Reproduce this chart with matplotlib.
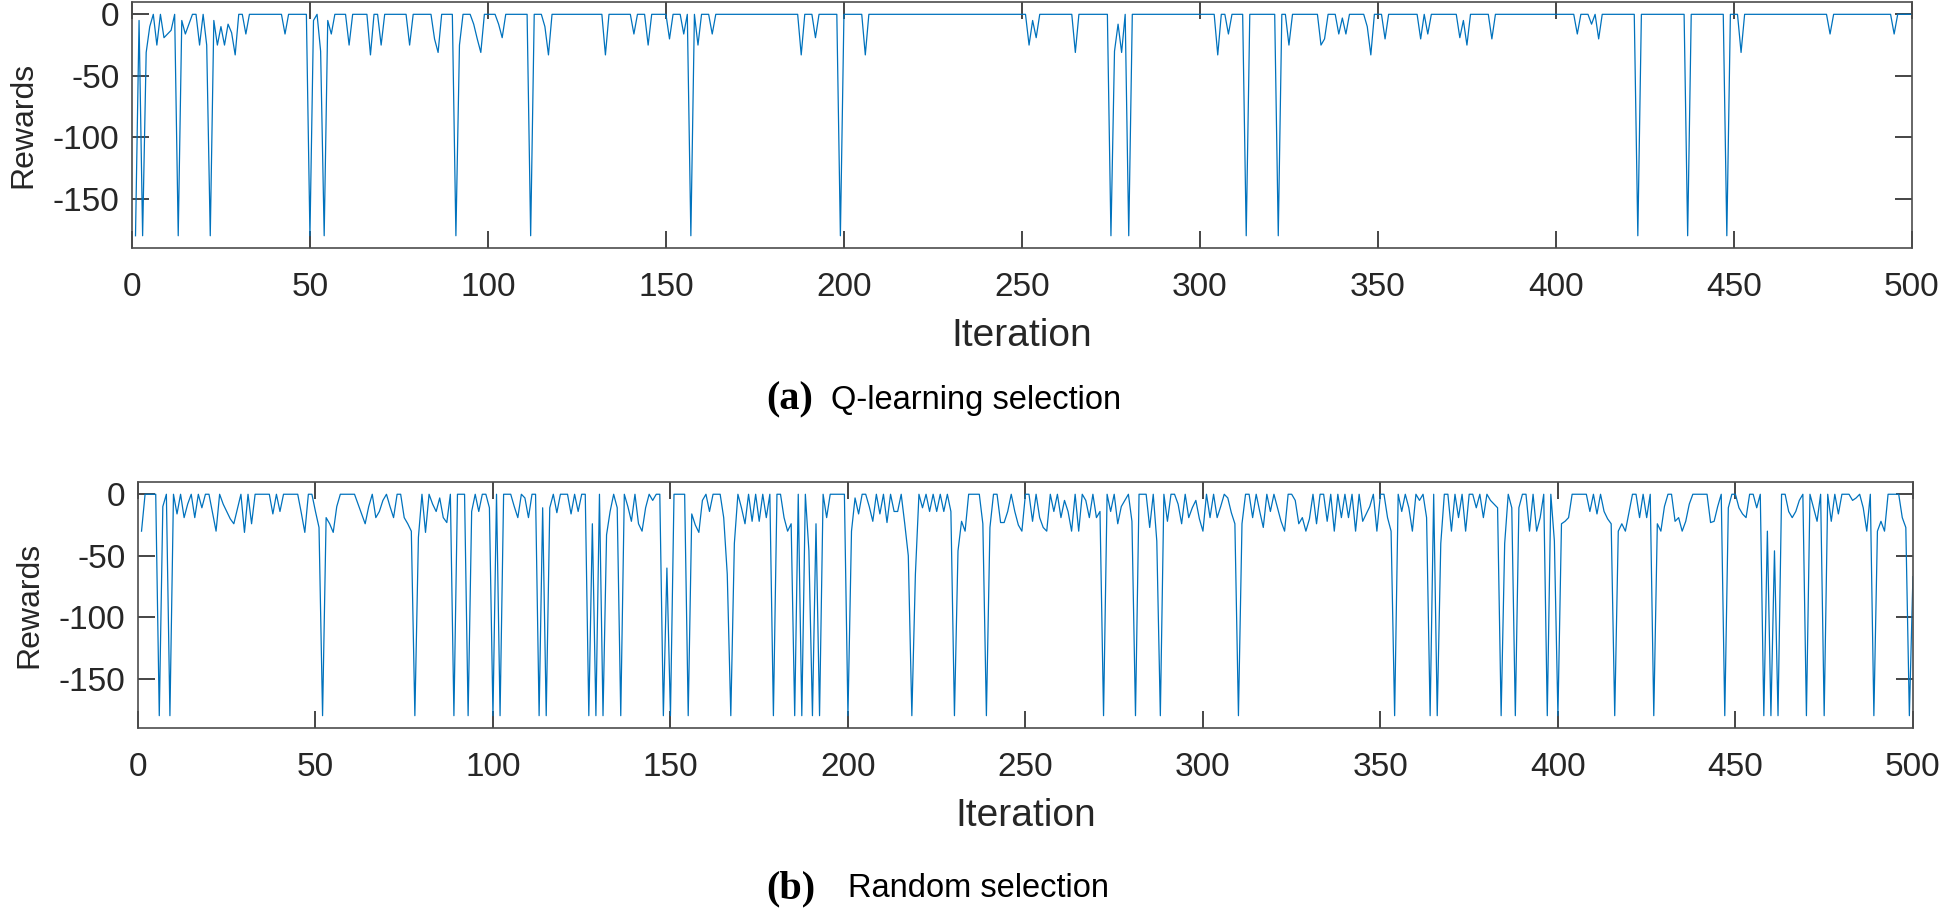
import numpy as np
import matplotlib
matplotlib.use('Agg')
import matplotlib.pyplot as plt

# Q-learning selection: reward is 0 except at these iterations
q_iters = [1, 2, 3, 4, 5, 7, 9, 10, 11, 13, 14, 15, 16, 19, 21, 22, 23, 24, 25, 26,
           27, 28, 29, 32, 43, 50, 51, 53, 54, 55, 56, 61, 67, 70, 78, 85, 86, 91, 92, 96,
           97, 98, 103, 104, 112, 116, 117, 133, 141, 145, 151, 155, 157, 159, 163, 188, 192, 199, 206, 252,
           253, 254, 265, 275, 276, 277, 278, 280, 305, 308, 313, 322, 325, 334, 335, 339, 340, 341, 347, 348,
           352, 362, 364, 373, 374, 375, 382, 406, 410, 412, 423, 437, 448, 452, 477, 495]
q_values = [-180, -5, -180, -31, -10, -25, -19, -16, -13, -180, -5, -16, -8, -25, -25, -180, -5, -25, -10, -25,
            -8, -15, -33, -16, -16, -180, -5, -30, -180, -5, -16, -25, -33, -25, -25, -20, -31, -180, -25, -8,
            -20, -31, -8, -19, -180, -10, -33, -33, -16, -25, -20, -16, -180, -25, -16, -33, -19, -180, -33, -25,
            -5, -19, -31, -180, -30, -8, -31, -180, -33, -16, -180, -180, -25, -25, -20, -16, -3, -16, -10, -33,
            -20, -20, -16, -19, -5, -25, -20, -16, -8, -20, -180, -180, -180, -31, -16, -16]

# Random selection: reward at every iteration 1..500
random_rewards = [
    -30, 0, 0, 0, 0, -180, -10, 0, -180, 0,
    -16, 0, -19, -8, 0, -19, 0, -11, 0, 0,
    -15, -30, 0, -8, -14, -20, -24, -12, 0, -31,
    0, -24, 0, 0, 0, 0, 0, -16, 0, -14,
    0, 0, 0, 0, 0, -15, -31, 0, 0, -14,
    -27, -180, -19, -24, -31, -10, 0, 0, 0, 0,
    0, -8, -16, -24, -10, 0, -19, -14, -5, 0,
    -10, -19, 0, 0, -19, -24, -30, -180, -35, 0,
    -31, 0, -8, -14, -3, -19, -23, 0, -180, 0,
    0, 0, -180, -14, 0, -14, 0, 0, -11, -180,
    0, -180, 0, 0, 0, -10, -19, 0, -3, -19,
    0, 0, -180, -11, -180, -11, 0, -15, 0, 0,
    0, -16, 0, -14, 0, 0, -180, -24, -180, 0,
    -180, -33, -14, 0, -11, -180, 0, -10, -22, 0,
    -24, -30, -11, 0, -5, 0, 0, -180, -60, -180,
    0, 0, 0, 0, -180, -16, -25, -31, -5, 0,
    -14, 0, 0, 0, -19, -65, -180, -40, 0, -11,
    -24, 0, -22, 0, -22, 0, -19, 0, -180, 0,
    0, -19, -30, -24, -180, 0, -180, 0, -46, -180,
    -24, -180, 0, -19, 0, 0, 0, 0, 0, -180,
    -30, -3, -16, 0, 0, -10, -22, 0, -16, 0,
    -23, 0, -14, -14, 0, -24, -50, -180, -65, 0,
    -11, 0, -14, 0, -14, 0, -14, 0, -14, -180,
    -46, -22, -30, 0, 0, 0, 0, -24, -180, -27,
    0, 0, -23, -23, -14, 0, -14, -25, -30, 0,
    0, -22, 0, -19, -27, -30, 0, -14, 0, -19,
    -5, -14, -30, 0, -30, 0, -5, -19, 0, -19,
    -14, -180, 0, -14, 0, -24, -10, -5, 0, -22,
    -180, 0, 0, 0, -27, 0, -38, -180, 0, -22,
    0, 0, -8, -24, 0, -19, -11, -5, -20, -30,
    0, -19, 0, -19, -10, 0, -3, -15, -24, -180,
    -24, 0, 0, -19, 0, -14, -27, 0, -14, 0,
    -11, -22, -30, 0, 0, -5, -24, -19, -30, -20,
    0, -24, 0, 0, -22, 0, -30, 0, -19, 0,
    -19, 0, -30, 0, -22, -16, -10, 0, -30, 0,
    0, -19, -30, -180, 0, -14, 0, -11, -30, 0,
    -5, 0, -19, -180, 0, -180, -40, 0, 0, -30,
    0, -19, 0, -30, 0, 0, -11, 0, -19, 0,
    -5, -8, -11, -180, -40, 0, -11, -180, -11, 0,
    0, -30, 0, -30, -19, 0, -180, 0, -38, -180,
    -24, -22, -19, 0, 0, 0, 0, 0, -14, 0,
    -16, 0, -14, -20, -24, -180, -30, -24, -30, -15,
    0, 0, -19, 0, -19, 0, -180, -24, -30, -10,
    0, 0, -22, -19, -30, -22, -8, 0, 0, 0,
    0, 0, -23, -22, -10, 0, -180, -11, 0, 0,
    -11, -16, -19, 0, 0, -11, 0, -180, -30, -180,
    -46, -180, 0, 0, -14, -19, -14, -5, 0, -180,
    0, -11, -22, 0, -180, 0, -22, 0, -16, 0,
    0, 0, -5, -3, 0, -11, -30, 0, -180, -30,
    -22, -30, 0, 0, 0, 0, -19, -27, -180, -67,
]

x_ticks = [0, 50, 100, 150, 200, 250, 300, 350, 400, 450, 500]
y_ticks = [-150, -100, -50, 0]

iters = np.arange(1, 501)
q_rewards = np.zeros(500)
q_rewards[np.array(q_iters) - 1] = q_values

line_color = '#0072BD'
axis_color = '#262626'
plt.rcParams['font.family'] = ['Liberation Sans', 'DejaVu Sans']
plt.rcParams['axes.unicode_minus'] = False

fig = plt.figure(figsize=(19.46, 9.18), dpi=100)
ax1 = fig.add_axes([0.0678, 0.7298, 0.9147, 0.2680])
ax2 = fig.add_axes([0.0709, 0.2070, 0.9121, 0.2680])

for ax, data in [(ax1, q_rewards), (ax2, random_rewards)]:
    ax.plot(iters, data, color=line_color, lw=0.9)
    ax.set_xlim(0, 500)
    ax.set_ylim(-190, 10)
    ax.set_xticks(x_ticks)
    ax.set_yticks(y_ticks)
    ax.tick_params(direction='in', length=12.5, width=1.2, colors=axis_color,
                   labelsize=24, top=True, right=True)
    ax.tick_params(axis='x', pad=17)
    ax.tick_params(axis='y', pad=9)
    for s in ax.spines.values():
        s.set_color('#4d4d4d')
        s.set_linewidth(1.2)
    ax.set_xlabel('Iteration', fontsize=28, color=axis_color, labelpad=11)
    ax.set_ylabel('Rewards', fontsize=23, color=axis_color, labelpad=10)

fig.text(0.394, 0.564, '(a)', fontsize=29, fontweight='bold', family='Liberation Serif',
         ha='left', va='center')
fig.text(0.427, 0.564, 'Q-learning selection', fontsize=23.5, ha='left', va='center')
fig.text(0.394, 0.032, '(b)', fontsize=29, fontweight='bold', family='Liberation Serif',
         ha='left', va='center')
fig.text(0.436, 0.032, 'Random selection', fontsize=23.5, ha='left', va='center')

fig.savefig('out.png', dpi=100)
